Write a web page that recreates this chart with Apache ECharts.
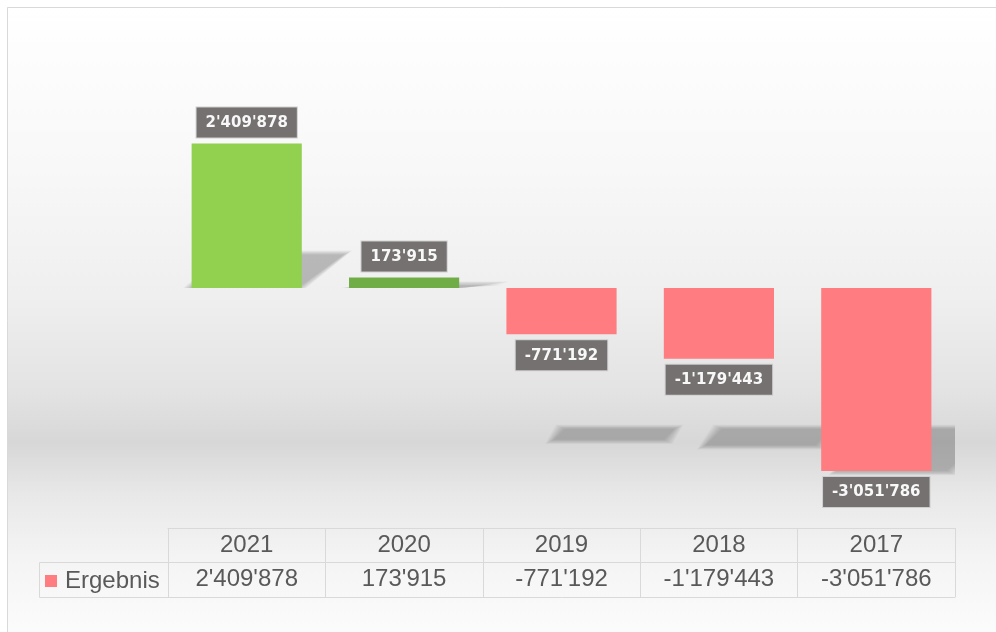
<!doctype html>
<html>
<head>
    <meta charset="utf-8">
    <title>Ergebnis</title>
    <style>
        html, body { margin: 0; padding: 0; background: #fff; }
        #chartEle { width: 996px; height: 632px; }
    </style>
</head>
<body>
<div id="chartEle"></div>
<script src="https://cdn.jsdelivr.net/npm/echarts@6/dist/echarts.min.js"></script>
<script>
    // Daten
    var years = ['2021', '2020', '2019', '2018', '2017'];
    var ergebnis = [2409878, 173915, -771192, -1179443, -3051786];
    var seriesName = 'Ergebnis';

    // 1'234'567 Format
    function fmt(v) {
        var s = String(Math.abs(v)).replace(/\B(?=(\d{3})+(?!\d))/g, "'");
        return (v < 0 ? '-' : '') + s;
    }

    var myChart = echarts.init(document.getElementById('chartEle'));
    var lineCol = '#d9d9d9';
    var txtCol = '#595959';
    var font = 'Liberation Sans, Arial, sans-serif';

    var option = {
        animation: false,
        graphic: [{
            type: 'rect', z: -10, silent: true,
            shape: {x: 7.5, y: 7.5, width: 1000, height: 640},
            style: {
                stroke: lineCol, lineWidth: 1,
                fill: new echarts.graphic.LinearGradient(0, 0, 0, 1, [
                    {offset: 0, color: '#ffffff'},
                    {offset: 0.25, color: '#f8f8f8'},
                    {offset: 0.45, color: '#efefef'},
                    {offset: 0.6, color: '#e3e3e3'},
                    {offset: 0.68, color: '#d7d7d7'},
                    {offset: 0.76, color: '#e8e8e8'},
                    {offset: 0.86, color: '#f4f4f4'},
                    {offset: 1, color: '#fdfdfd'}
                ])
            }
        }, {
            // linke Tabellenspalte
            type: 'polyline', silent: true,
            shape: {points: [[168, 562.5], [39.5, 562.5], [39.5, 597.5], [168, 597.5]]},
            style: {stroke: lineCol, lineWidth: 1, fill: null}
        }],
        legend: {
            left: 40, top: 564,
            icon: 'rect', itemWidth: 12, itemHeight: 12, itemGap: 4,
            selectedMode: false,
            textStyle: {fontSize: 24, color: txtCol, fontFamily: font, padding: [0, 0, 0, 3]},
            data: [{name: seriesName, itemStyle: {color: '#ff7c80'}}]
        },
        grid: {left: 168, right: 41, top: 48, bottom: 104},
        xAxis: [{
            type: 'category',
            data: years,
            position: 'bottom',
            axisLine: {show: true, onZero: false, lineStyle: {color: lineCol}},
            axisTick: {show: true, length: 69, lineStyle: {color: lineCol}},
            axisLabel: {fontSize: 24, color: txtCol, fontFamily: font, margin: 5}
        }, {
            type: 'category',
            data: ergebnis.map(fmt),
            position: 'bottom',
            offset: 34,
            axisLine: {show: true, onZero: false, lineStyle: {color: lineCol}},
            axisTick: {show: false},
            axisLabel: {fontSize: 24, color: txtCol, fontFamily: font, margin: 5}
        }, {
            type: 'category',
            data: years,
            position: 'bottom',
            offset: 69,
            axisLine: {show: true, onZero: false, lineStyle: {color: lineCol}},
            axisTick: {show: false},
            axisLabel: {show: false}
        }],
        yAxis: {
            type: 'value',
            min: -4000000, max: 4000000,
            show: false,
            splitLine: {show: false}
        },
        series: [{
            // Schatten (weich durch mehrere Schichten)
            type: 'custom',
            z: 1,
            clip: true,
            silent: true,
            data: ergebnis.map(function (v, i) { return [i, v]; }),
            renderItem: function (params, api) {
                var i = api.value(0), v = api.value(1);
                var base = api.coord([i, 0]);
                var top = api.coord([i, v]);
                var w = api.size([1, 0])[0] * 0.7;
                var x0 = base[0] - w / 2, x1 = base[0] + w / 2;
                var d = Math.abs(top[1] - base[1]) * 0.23;
                var t, b, tl, tr, bl, br, pos = v >= 0;
                if (pos) {
                    b = base[1]; t = base[1] - d;
                    bl = x0; br = x1 - 4; tl = x0 + 45; tr = x1 + 42;
                } else {
                    t = base[1] + 141; b = t + d;
                    tl = x0 + 58; tr = x1 + 58; bl = tl - d; br = tr - d;
                }
                var layers = [];
                for (var k = 6; k >= 0; k--) {
                    var ey = k * 0.7, ex = k * 1.4;
                    layers.push({
                        type: 'polygon',
                        shape: {points: [
                            [bl - ex, b + (pos ? 0 : ey)], [br + ex, b + (pos ? 0 : ey)],
                            [tr + ex, t - ey], [tl - ex, t - ey]
                        ]},
                        style: {fill: 'rgba(70,70,70,0.055)'}
                    });
                }
                return {type: 'group', children: layers};
            }
        }, {
            name: seriesName,
            type: 'bar',
            z: 2,
            barWidth: '70%',
            data: ergebnis.map(function (v) {
                // negative Werte: Label unten
                return v < 0 ? {value: v, label: {position: 'bottom'}} : v;
            }),
            itemStyle: {
                color: function (p) {
                    if (p.dataIndex === 0) return '#92d050';
                    if (p.dataIndex === 1) return '#70ad47';
                    return '#ff7c80';
                }
            },
            label: {
                show: true,
                position: 'top',
                distance: 6,
                formatter: function (p) { return fmt(p.value); },
                color: '#f8f8f8',
                fontSize: 15,
                fontWeight: 'bold',
                fontFamily: 'DejaVu Sans, sans-serif',
                backgroundColor: '#767171',
                borderColor: '#cfcfcf',
                borderWidth: 1,
                padding: [8, 9, 7, 9]
            }
        }]
    };

    myChart.setOption(option);
</script>
</body>
</html>
